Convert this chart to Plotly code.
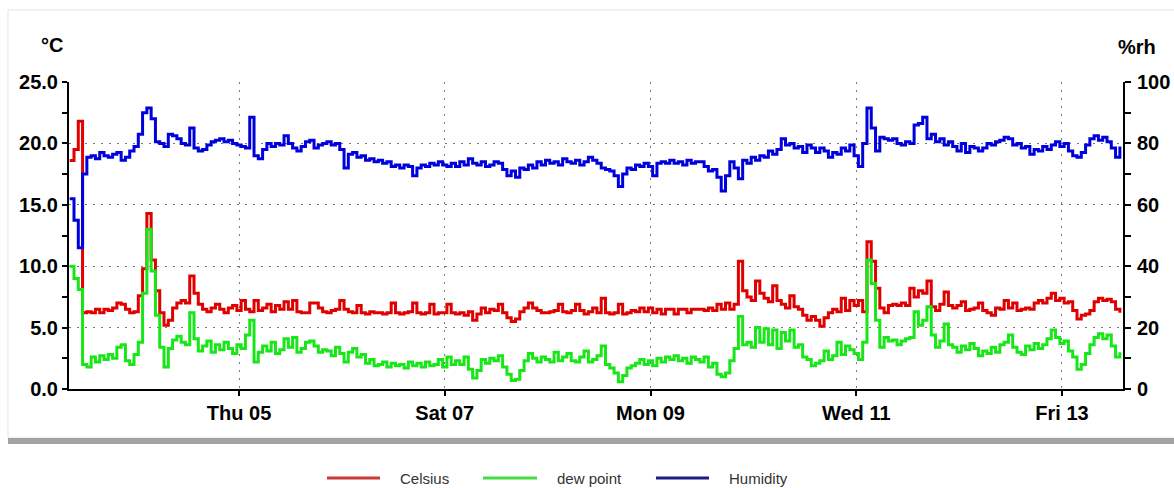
import pandas as pd
import plotly.graph_objects as go

# ---------------- data (hourly readings) ----------------
START = "2012-01-03 08:30"

celsius = [
    18.6, 19.5, 21.8, 6.2, 6.3, 6.2, 6.5, 6.2, 6.5, 6.4,
    6.6, 7.0, 6.9, 6.5, 6.2, 6.3, 7.6, 9.8, 14.3, 10.5,
    8.0, 6.2, 5.2, 5.6, 6.6, 7.0, 7.2, 7.0, 9.2, 7.8,
    6.9, 6.5, 6.3, 6.6, 6.9, 6.5, 6.2, 6.6, 6.8, 6.4,
    7.2, 6.5, 6.3, 7.2, 6.4, 6.6, 6.9, 6.3, 6.8, 6.5,
    7.1, 6.5, 7.2, 6.3, 6.2, 6.2, 7.0, 7.0, 6.6, 6.3,
    6.2, 6.4, 6.5, 7.2, 6.5, 6.3, 6.2, 6.8, 6.2, 6.1,
    6.3, 6.2, 6.2, 6.1, 6.2, 7.0, 6.2, 6.1, 6.2, 6.3,
    7.0, 6.2, 6.1, 6.2, 6.9, 6.1, 6.2, 6.2, 6.9, 6.2,
    6.1, 6.2, 6.0, 6.3, 5.6, 6.1, 6.6, 6.2, 6.5, 6.4,
    6.9, 6.2, 5.8, 5.5, 5.7, 6.3, 6.6, 7.0, 6.6, 6.4,
    6.2, 6.2, 6.3, 6.4, 6.9, 6.3, 6.2, 6.4, 6.9, 6.4,
    6.1, 6.3, 6.6, 6.2, 7.4, 6.2, 6.1, 6.2, 6.9, 6.1,
    6.2, 6.4, 6.3, 6.6, 6.3, 6.6, 6.2, 6.5, 6.1, 6.5,
    6.5, 6.1, 6.5, 6.5, 6.2, 6.5, 6.5, 6.5, 6.4, 6.6,
    6.4, 6.9, 6.5, 7.0, 6.5, 6.9, 10.4, 8.0, 7.5, 7.2,
    8.8, 7.8, 7.4, 7.1, 8.4, 7.2, 6.9, 6.6, 7.6, 6.7,
    6.5, 6.0, 5.6, 5.9, 5.6, 5.1, 5.8, 6.2, 6.5, 6.3,
    7.4, 6.4, 7.2, 6.8, 7.2, 6.3, 12.0, 10.4, 8.2, 6.6,
    6.2, 6.8, 6.9, 6.8, 7.0, 6.8, 8.2, 7.5, 8.0, 7.8,
    8.8, 6.7, 6.4, 6.9, 7.9, 6.8, 6.6, 6.8, 7.1, 6.4,
    6.5, 6.6, 7.0, 6.4, 6.2, 6.0, 6.6, 6.5, 7.2, 6.6,
    7.0, 6.4, 6.5, 6.6, 6.5, 7.0, 7.2, 7.0, 7.4, 7.8,
    7.2, 7.4, 7.0, 7.1, 6.4, 5.7, 6.0, 6.1, 6.4, 7.1,
    7.4, 7.2, 7.3, 7.1, 6.5, 6.2,
]

dew_point = [
    10.0, 9.0, 8.1, 2.0, 1.8, 2.6, 2.2, 2.7, 2.4, 2.8,
    2.5, 3.4, 3.6, 2.3, 2.0, 2.8, 3.8, 7.8, 13.0, 9.6,
    6.0, 3.4, 1.8, 3.3, 4.0, 4.3, 3.8, 3.6, 6.2, 4.1,
    3.1, 3.5, 3.9, 3.0, 3.6, 3.2, 3.8, 3.3, 2.9, 3.6,
    3.3, 4.4, 5.6, 2.2, 3.0, 3.5, 3.1, 3.8, 2.9, 3.2,
    4.1, 3.4, 4.2, 3.0, 3.3, 3.8, 3.9, 3.5, 3.0, 3.2,
    3.1, 2.7, 3.4, 2.9, 2.2, 3.0, 3.3, 2.6, 2.8, 2.1,
    2.4, 1.9, 2.0, 2.2, 1.8, 2.1, 1.9, 2.0, 1.7, 2.2,
    1.9, 2.1, 1.8, 2.2, 1.9, 2.0, 2.4, 1.8, 2.6, 2.0,
    2.3, 2.0, 2.6, 1.6, 0.9, 1.5, 2.4, 2.1, 2.5, 2.3,
    2.7, 1.8, 1.2, 0.7, 0.8, 1.5, 2.3, 2.9, 2.5, 2.2,
    2.6, 2.4, 2.2, 3.0, 2.3, 2.6, 2.9, 2.3, 2.2, 2.6,
    3.1, 2.2, 2.4, 2.7, 3.5, 2.0, 1.7, 1.3, 0.6, 1.1,
    1.7, 1.9, 2.1, 2.4, 2.0, 2.3, 1.9, 2.5, 2.2, 2.6,
    2.4, 2.7, 2.3, 2.5, 2.1, 2.6, 2.4, 2.2, 2.6, 1.8,
    2.1, 1.2, 1.0, 1.3, 2.3, 3.3, 5.9, 3.6, 3.8, 3.4,
    5.0, 3.8, 4.9, 3.6, 4.8, 3.3, 4.6, 3.9, 4.8, 3.4,
    3.6, 2.6, 2.4, 1.9, 2.1, 2.3, 3.1, 2.4, 2.7, 3.8,
    2.8, 3.5, 3.2, 2.9, 2.4, 3.8, 10.5, 8.6, 5.6, 3.4,
    4.2, 3.9, 4.0, 3.6, 3.9, 4.1, 4.2, 6.3, 5.2, 5.6,
    6.7, 4.4, 3.4, 3.9, 5.3, 3.6, 3.4, 3.0, 3.5, 3.2,
    3.7, 3.3, 2.7, 3.1, 2.9, 3.4, 3.0, 3.6, 3.8, 4.4,
    3.4, 3.0, 2.8, 3.5, 3.2, 3.7, 3.3, 3.6, 4.1, 4.8,
    4.2, 3.7, 3.9, 3.1, 2.6, 1.6, 2.0, 2.9, 3.6, 4.2,
    4.5, 4.1, 4.4, 3.5, 2.6, 3.0,
]

humidity = [
    62, 55, 46, 70, 75.5, 76, 75, 77, 76, 75.5,
    76.5, 77, 74.5, 75.5, 77.5, 79, 83, 90, 91.5, 88,
    80.5, 80, 79, 83, 82.5, 81.5, 80, 79.5, 85, 78.5,
    77.5, 78, 79.5, 80.5, 81, 81.5, 80.5, 81, 80, 79.5,
    79, 78.5, 88.5, 76, 75, 78, 80, 79, 80, 79.5,
    82.5, 80, 78.5, 77.5, 79, 80.5, 81, 78.5, 79.5, 80,
    80.5, 79.5, 80, 78, 72, 76.5, 77, 75.5, 76, 74.5,
    75, 74, 74.5, 73.5, 74, 72.5, 73, 72, 73, 72.5,
    69.5, 72, 73, 72.5, 73.5, 73, 74, 73, 72.5, 73.5,
    72.5, 74, 73, 75, 73.5, 73, 74, 72.5, 73, 74,
    73.5, 71.5, 69.5, 71, 69, 72, 71.5, 73, 72, 74,
    73, 74.5, 73.5, 74, 73, 75, 74, 73.5, 74.5, 73,
    74, 75.5, 74.5, 73.5, 72, 71.5, 71, 69.5, 66, 70,
    72, 71.5, 73, 72.5, 73.5, 72.5, 69.5, 73.5, 74, 73.5,
    74.5, 73.5, 74, 73, 74.5, 73.5, 74, 74, 72.5, 71,
    71.5, 69, 64.5, 69.5, 74, 72, 68.5, 74.5, 73.5, 75.5,
    74.5, 76, 75.5, 77.5, 76.5, 78, 81.5, 79.5, 80, 78.5,
    79, 77, 79.5, 78.5, 77, 78.5, 77.5, 75.5, 77, 76.5,
    78.5, 77.5, 79.5, 76, 72.5, 80, 91.5, 85, 77.5, 82,
    81.5, 81, 81.5, 80, 79.5, 80.5, 80, 86, 86.5, 88.5,
    81.5, 83, 80.5, 81.5, 79.5, 80.5, 79, 77.5, 80, 77,
    79, 78.5, 77.5, 78.5, 80, 79.5, 80.5, 81, 82, 81.5,
    79.5, 80, 78.5, 79, 76.5, 78, 77.5, 79, 78, 79.5,
    80.5, 79, 80, 77.5, 76, 75.5, 77, 79.5, 81.5, 82.5,
    81, 82, 80.5, 78.5, 75.5, 79,
]

series_names = ["Celsius", "dew point", "Humidity"]

X_RANGE = ["2012-01-03 08:20", "2012-01-13 14:14"]
TICK0 = "2012-01-05"

# ---------------- figure ----------------
FONT = "Liberation Sans, Arial, sans-serif"
RED, GREEN, BLUE = "#e00000", "#19e619", "#0000dc"
LEGEND_COLORS = ["#cc3a3a", "#44dd44", "#1c1c8a"]
LW = 3


def times(values):
    return pd.date_range(START, periods=len(values), freq="h")


fig = go.Figure()
fig.add_trace(go.Scatter(x=times(celsius), y=celsius, name=series_names[0],
                         mode="lines", showlegend=False,
                         line=dict(color=RED, width=LW, shape="hv")))
fig.add_trace(go.Scatter(x=times(dew_point), y=dew_point, name=series_names[1],
                         mode="lines", showlegend=False,
                         line=dict(color=GREEN, width=LW, shape="hv")))
fig.add_trace(go.Scatter(x=times(humidity), y=humidity, name=series_names[2],
                         yaxis="y2", mode="lines", showlegend=False,
                         line=dict(color=BLUE, width=LW, shape="hv")))

tickfont = dict(family=FONT, size=20, color="black", weight="bold")
grid = dict(showgrid=True, gridcolor="#777777", gridwidth=1, griddash="2px,6px")

fig.update_layout(
    template="none",
    width=1174, height=488,
    margin=dict(l=69, r=51, t=82, b=99, pad=0, autoexpand=False),
    paper_bgcolor="white", plot_bgcolor="white",
    font=dict(family=FONT, color="black"),
    xaxis=dict(
        type="date", range=X_RANGE, tick0=TICK0, dtick=2 * 86400000,
        tickformat="%a %d", tickfont=tickfont, ticks="outside", ticklen=5,
        tickcolor="black", tickwidth=2, showline=True, linecolor="black",
        linewidth=2, zeroline=False, automargin=False, ticklabelstandoff=0,
        **grid,
    ),
    yaxis=dict(
        range=[0, 25], dtick=5, tickformat=".1f", tickfont=tickfont,
        ticks="outside", ticklen=5, tickcolor="black", tickwidth=2,
        minor=dict(dtick=2.5, ticks="outside", ticklen=5, tickcolor="black",
                   tickwidth=2, showgrid=False),
        showline=True, linecolor="black", linewidth=2, zeroline=False,
        automargin=False, ticklabelstandoff=0, **grid,
    ),
    yaxis2=dict(
        range=[0, 100], dtick=20, overlaying="y", side="right",
        tickfont=tickfont, ticks="outside", ticklen=6, tickcolor="black",
        tickwidth=2,
        minor=dict(dtick=10, ticks="outside", ticklen=6, tickcolor="black",
                   tickwidth=2, showgrid=False),
        showline=True, linecolor="black", linewidth=2, zeroline=False,
        showgrid=False, automargin=False, ticklabelstandoff=2,
    ),
    showlegend=False,
)

# axis unit labels
fig.add_annotation(text="°C", xref="paper", yref="paper", x=-0.016, y=1.12,
                   xanchor="center", yanchor="middle", showarrow=False,
                   font=dict(family=FONT, size=20, color="black", weight="bold"))
fig.add_annotation(text="%rh", xref="paper", yref="paper", x=1.0133, y=1.114,
                   xanchor="center", yanchor="middle", showarrow=False,
                   font=dict(family=FONT, size=20, color="black", weight="bold"))

# legend below the panel: a line sample and a label per series
LEG_Y = -0.29
leg_line_x = [(0.2448, 0.2951), (0.3928, 0.4440), (0.5569, 0.6072)]
for name, color, (x0, x1) in zip(series_names, LEGEND_COLORS, leg_line_x):
    fig.add_shape(type="line", xref="paper", yref="paper", x0=x0, x1=x1,
                  y0=LEG_Y, y1=LEG_Y, line=dict(color=color, width=3))
    fig.add_annotation(text=name, xref="paper", yref="paper", x=x1 + 0.017,
                       y=LEG_Y, xanchor="left", yanchor="middle", showarrow=False,
                       font=dict(family=FONT, size=15, color="#333333"))

# panel frame and its bottom shadow band
fig.add_shape(type="rect", xref="paper", yref="paper", x0=-0.0579, x1=1.06,
              y0=-0.1596, y1=1.235, line=dict(color="#e4e4e4", width=1),
              fillcolor="rgba(0,0,0,0)", layer="below")
fig.add_shape(type="rect", xref="paper", yref="paper", x0=-0.0579, x1=1.06,
              y0=-0.1792, y1=-0.1596, line=dict(width=0), fillcolor="#a2a2a2",
              layer="below")

fig.write_html("out.html", config={"displayModeBar": False},
               post_script="document.body.style.margin='0px';")
